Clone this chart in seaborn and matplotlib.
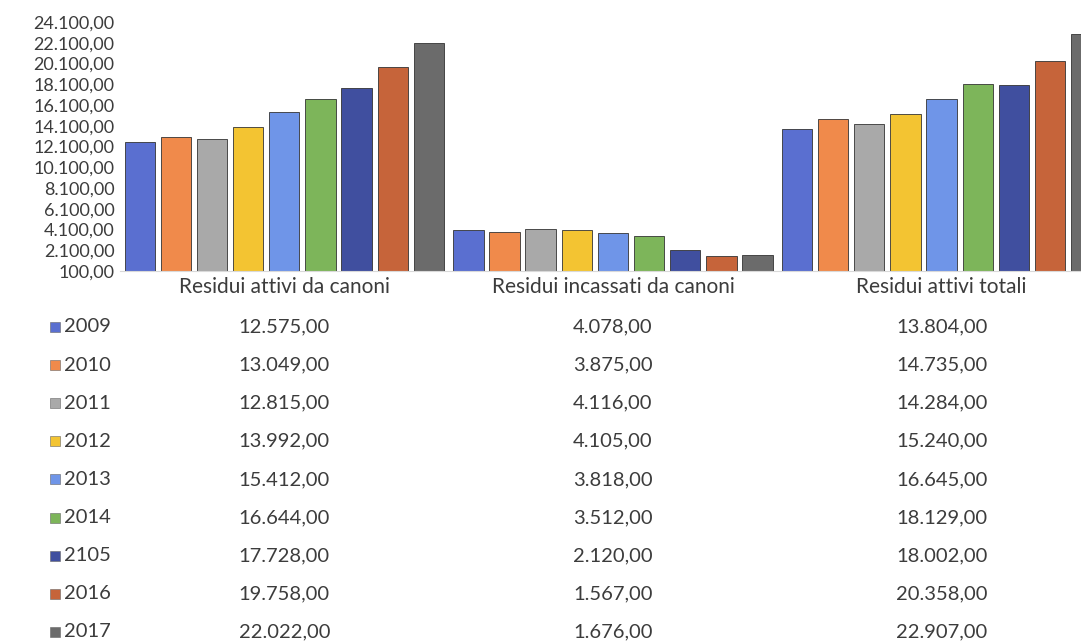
import numpy as np
import pandas as pd
import matplotlib
matplotlib.use("Agg")
import matplotlib.pyplot as plt
import matplotlib.transforms as mtransforms
import seaborn as sns

# dati
categorie = ["Residui attivi da canoni", "Residui incassati da canoni", "Residui attivi totali"]
anni = ["2009", "2010", "2011", "2012", "2013", "2014", "2105", "2016", "2017"]
attivi_canoni = [12575, 13049, 12815, 13992, 15412, 16644, 17728, 19758, 22022]
incassati_canoni = [4078, 3875, 4116, 4105, 3818, 3512, 2120, 1567, 1676]
attivi_totali = [13804, 14735, 14284, 15240, 16645, 18129, 18002, 20358, 22907]
colori = ["#5a6fd0", "#f08a4b", "#a9a9a9", "#f3c432", "#6f95e8",
          "#7db55a", "#404f9f", "#c6643a", "#6b6b6b"]

def fmt(v):
    # formato italiano 12.575,00
    return f"{v:,.2f}".replace(",", "X").replace(".", ",").replace("X", ".")

rows = []
for i, a in enumerate(anni):
    for c, serie in zip(categorie, [attivi_canoni, incassati_canoni, attivi_totali]):
        rows.append({"categoria": c, "anno": a, "valore": serie[i]})
df = pd.DataFrame(rows)

sns.set_style("white")
plt.rcParams["font.family"] = ["Lato", "DejaVu Sans"]
testo = "#3c3c3c"

fig = plt.figure(figsize=(10.81, 6.44), dpi=100)
ax = fig.add_axes([0.111, 0.579, 0.912, 0.387])

sns.barplot(data=df, x="categoria", y="valore", hue="anno", order=categorie,
            hue_order=anni, palette=colori, saturation=1, width=0.99, gap=0.16,
            edgecolor="#333333", linewidth=0.6, legend=False, ax=ax)

ax.set_ylim(100, 24100)
ax.set_xlim(-0.5, 2.5)
ax.set_yticks(np.arange(100, 24101, 2000))
ax.set_yticklabels([fmt(v) for v in np.arange(100, 24101, 2000)],
                   fontsize=13, color=testo)
ax.tick_params(axis="y", length=0, pad=4)
ax.set_xticks(range(3))
ax.set_xticklabels(categorie, fontsize=15, color=testo)
ax.tick_params(axis="x", length=0, pad=4)
ax.set_xticks([-0.5, 0.5, 1.5], minor=True)
ax.tick_params(axis="x", which="minor", length=22, color="#dddddd", width=0.8)
ax.set_xlabel("")
ax.set_ylabel("")
sns.despine(ax=ax, left=True, top=True, right=True)
ax.spines["bottom"].set_color("#d9d9d9")

# tabella dati sotto il grafico
trans = mtransforms.blended_transform_factory(ax.transData, fig.transFigure)
y0 = 1 - 327 / 644
dy = 38.1 / 644
serie_tab = [attivi_canoni, incassati_canoni, attivi_totali]
for i, a in enumerate(anni):
    y = y0 - i * dy
    fig.patches.append(plt.Rectangle((50 / 1081, y - 5 / 644), 10 / 1081, 10 / 644,
                                     transform=fig.transFigure, facecolor=colori[i],
                                     edgecolor="#666666", linewidth=0.4))
    fig.text(64 / 1081, y, a, fontsize=14.5, color=testo, va="center", ha="left")
    for j, s in enumerate(serie_tab):
        ax.text(j, y, fmt(s[i]), transform=trans, fontsize=14.5, color=testo,
                va="center", ha="center")

fig.savefig("out.png", dpi=100)
